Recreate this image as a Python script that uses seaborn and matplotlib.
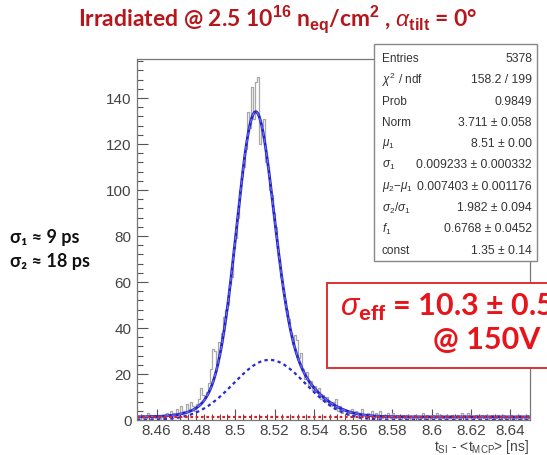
import numpy as np
import pandas as pd
import matplotlib
matplotlib.use("Agg")
import matplotlib.pyplot as plt
import seaborn as sns
from matplotlib.patches import Rectangle

# ---------------- data ----------------
x_min, x_max = 8.45, 8.65
n_bins = 200
counts = [1, 0, 2, 1, 1, 3, 2, 1, 2, 1, 2, 1, 0, 2, 1, 3, 2, 4, 3, 2,
          5, 3, 6, 4, 3, 7, 5, 8, 6, 4, 7, 9, 14, 11, 10, 12, 16, 22, 31, 30,
          24, 34, 31, 38, 45, 48, 50, 59, 62, 75, 79, 88, 100, 106, 110, 118, 134, 127, 145, 131,
          147, 149, 120, 128, 131, 112, 110, 100, 98, 90, 84, 74, 70, 62, 57, 52, 48, 44, 38, 33,
          37, 35, 27, 29, 22, 18, 21, 15, 17, 13, 15, 12, 14, 9, 11, 8, 10, 7, 6, 8,
          5, 9, 4, 6, 3, 5, 4, 2, 3, 5, 2, 4, 3, 1, 5, 2, 1, 3, 2, 4,
          1, 3, 2, 4, 1, 2, 0, 3, 2, 1, 3, 1, 2, 1, 0, 2, 1, 2, 1, 0,
          1, 2, 1, 0, 1, 3, 1, 2, 0, 1, 2, 1, 3, 1, 2, 1, 0, 2, 1, 1,
          2, 0, 1, 2, 1, 3, 2, 1, 3, 2, 0, 1, 2, 1, 0, 2, 1, 2, 0, 1,
          2, 1, 1, 2, 0, 1, 2, 1, 0, 1, 2, 1, 1, 0, 2, 1, 0, 1, 2, 1]

# fit parameters (as shown in stats box)
stat_labels = ["Entries", r"$\chi^2$ / ndf", "Prob", "Norm", r"$\mu_1$", r"$\sigma_1$",
               r"$\mu_2$$-$$\mu_1$", r"$\sigma_2/\sigma_1$", r"$f_1$", "const"]
stat_values = ["5378", "158.2 / 199", "0.9849", "3.711 ± 0.058", "8.51 ± 0.00",
               "0.009233 ± 0.000332", "0.007403 ± 0.001176", "1.982 ± 0.094",
               "0.6768 ± 0.0452", "1.35 ± 0.14"]
norm = 3.711
mu1 = 8.51
sigma1 = 0.009233
dmu = 0.007403
sig_ratio = 1.982
f1 = 0.6768
const = 1.35

x_ticks = [8.46, 8.48, 8.50, 8.52, 8.54, 8.56, 8.58, 8.60, 8.62, 8.64]
x_tick_labels = ["8.46", "8.48", "8.5", "8.52", "8.54", "8.56", "8.58", "8.6", "8.62", "8.64"]
y_ticks = [0, 20, 40, 60, 80, 100, 120, 140]

# ---------------- figure ----------------
sns.set_theme(style="white")
plt.rcParams["font.family"] = ["Liberation Sans", "DejaVu Sans"]
plt.rcParams["mathtext.fontset"] = "custom"
plt.rcParams["mathtext.rm"] = "Liberation Sans"
plt.rcParams["mathtext.it"] = "Liberation Sans:italic"
plt.rcParams["mathtext.bf"] = "Liberation Sans:bold"

fig = plt.figure(figsize=(5.47, 4.55), dpi=100)
ax = fig.add_axes([137 / 547, 35 / 455, (530 - 137) / 547, (420 - 59) / 455])

bw = (x_max - x_min) / n_bins
centers = x_min + bw * (np.arange(n_bins) + 0.5)
df = pd.DataFrame({"t": centers, "n": counts})
sns.histplot(data=df, x="t", weights="n", bins=n_bins, binrange=(x_min, x_max),
             element="step", fill=False, color="#a8a8a8", linewidth=0.9, ax=ax)

# fit function curves
xf = np.linspace(x_min, x_max, 1000)
sigma2 = sigma1 * sig_ratio
mu2 = mu1 + dmu
scale = norm * 1000 * bw
g1 = scale * f1 * np.exp(-0.5 * ((xf - mu1) / sigma1) ** 2) / (np.sqrt(2 * np.pi) * sigma1)
g2 = scale * (1 - f1) * np.exp(-0.5 * ((xf - mu2) / sigma2) ** 2) / (np.sqrt(2 * np.pi) * sigma2)
total = g1 + g2 + const
fit_df = pd.DataFrame({"x": xf, "total": total, "g2": g2, "c": np.full_like(xf, const)})
sns.lineplot(data=fit_df, x="x", y="total", color="#2323c8", linewidth=2.0, ax=ax)
sns.lineplot(data=fit_df, x="x", y="total", color="#6a6af0", linewidth=1.0,
             linestyle=(0, (3, 2)), ax=ax)
sns.lineplot(data=fit_df, x="x", y="g2", color="#2a2ad0", linewidth=1.6,
             linestyle=(0, (1.5, 1.5)), ax=ax)
sns.lineplot(data=fit_df, x="x", y="c", color="#e02020", linewidth=1.6,
             linestyle=(0, (1.2, 1.2)), ax=ax)

ax.set_xlim(x_min, x_max)
ax.set_ylim(0, 157)
ax.set_xticks(x_ticks)
ax.set_xticklabels(x_tick_labels)
ax.set_yticks(y_ticks)
ax.set_xticks(np.arange(8.452, 8.65, 0.004), minor=True)
ax.set_yticks(np.arange(0, 157, 4), minor=True)
ax.tick_params(axis="both", which="major", direction="in", length=8, width=0.8,
               color="#555555", labelsize=11, labelcolor="#444444", pad=4)
ax.tick_params(axis="x", which="major", pad=3)
ax.tick_params(axis="both", which="minor", direction="in", length=4, width=0.8,
               color="#555555")
ax.tick_params(axis="x", which="both", top=False, bottom=True)
ax.tick_params(axis="y", which="both", right=False, left=True)
for s in ax.spines.values():
    s.set_color("#777777")
    s.set_linewidth(0.9)
ax.set_xlabel("")
ax.set_ylabel("")
fig.text(529 / 547, 1 - 447 / 455, r"t$_{\rm SI}$ - <t$_{\rm MCP}$> [ns]", ha="right",
         va="center", fontsize=10, color="#444444")

# stats box
bx0, by0, bx1, by1 = 374, 44, 537, 261
fig.patches.append(Rectangle((bx0 / 547, 1 - by1 / 455), (bx1 - bx0) / 547, (by1 - by0) / 455,
                             transform=fig.transFigure, facecolor="white",
                             edgecolor="#888888", linewidth=1.0, zorder=5))
row_y0, row_dy = 59, 21.3
for i, (lab, val) in enumerate(zip(stat_labels, stat_values)):
    yy = 1 - (row_y0 + i * row_dy) / 455
    fig.text(382 / 547, yy, lab, ha="left", va="center", fontsize=8.5,
             color="#333333", zorder=6)
    fig.text(532 / 547, yy, val, ha="right", va="center", fontsize=8.7,
             color="#333333", zorder=6)

# title
fig.text(278 / 547, 1 - 19 / 455,
         r"Irradiated @ 2.5 10$^{\mathbf{16}}$ n$_{\mathbf{eq}}$/cm$^{\mathbf{2}}$ , $\alpha_{\mathbf{tilt}}$ = 0°",
         ha="center", va="center", fontsize=16.5, fontweight="bold", color="#b4181d",
         family=["Lato", "DejaVu Sans"])

# left annotations
fig.text(10 / 547, 1 - 237 / 455, "σ₁ ≈ 9 ps", ha="left", va="center", fontsize=13,
         fontweight="bold", color="#111111", family=["Lato", "DejaVu Sans"])
fig.text(10 / 547, 1 - 262 / 455, "σ₂ ≈ 18 ps", ha="left", va="center", fontsize=13,
         fontweight="bold", color="#111111", family=["Lato", "DejaVu Sans"])

# red result box
rx0, ry0, rx1, ry1 = 327, 283, 560, 368
fig.patches.append(Rectangle((rx0 / 547, 1 - ry1 / 455), (rx1 - rx0) / 547, (ry1 - ry0) / 455,
                             transform=fig.transFigure, facecolor="white",
                             edgecolor="#e03030", linewidth=1.4, zorder=5))
fig.text(340 / 547, 1 - 307 / 455, r"$\sigma_{\mathbf{eff}}$ = 10.3 ± 0.5 ps", ha="left",
         va="center", fontsize=22, fontweight="bold", color="#e8141b", zorder=6,
         family=["Lato", "DejaVu Sans"])
fig.text(433 / 547, 1 - 340 / 455, "@ 150V", ha="left", va="center", fontsize=22,
         fontweight="bold", color="#e8141b", zorder=6, family=["Lato", "DejaVu Sans"])

fig.savefig("out.png", dpi=100)
